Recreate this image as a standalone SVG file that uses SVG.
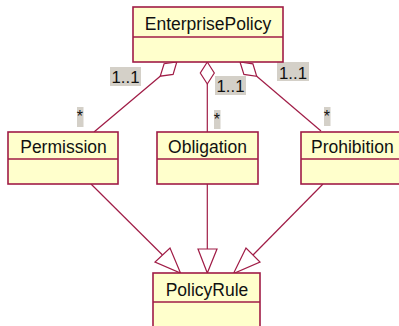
<svg xmlns="http://www.w3.org/2000/svg" width="399" height="326" viewBox="0 0 399 326">
  <style>
    .box { fill: #ffffcc; stroke: #a01c46; stroke-width: 1.6; }
    .div { stroke: #a01c46; stroke-width: 1.4; fill: none; }
    .name { font-family: "Liberation Sans", Arial, sans-serif; font-size: 17.5px; fill: #111; }
    .edge { stroke: #a01c46; stroke-width: 1.2; fill: none; }
    .head { stroke: #a01c46; stroke-width: 1.2; fill: #ffffff; }
    .lblbg { fill: #d4d0c8; }
    .lbl { font-family: "Liberation Sans", Arial, sans-serif; font-size: 16.8px; fill: #111; }
    .star { font-family: "Liberation Sans", Arial, sans-serif; font-size: 16px; fill: #111; }
  </style>
  <rect width="399" height="326" fill="#ffffff"/>

  <g id="connectors">
    <!-- aggregations from EnterprisePolicy -->
    <line class="edge" x1="160.2" y1="76.2" x2="94" y2="132"/>
    <polygon class="head" points="176.8,62 164.1,63.7 160.2,76.2 173.1,74.4"/>
    <line class="edge" x1="207.3" y1="84" x2="207.3" y2="132"/>
    <polygon class="head" points="207.3,62 200.3,73 207.3,84 214.3,73"/>
    <line class="edge" x1="256.7" y1="76.3" x2="321" y2="131"/>
    <polygon class="head" points="240,62 252.9,63.8 256.7,76.3 243.9,74.4"/>

    <!-- generalizations to PolicyRule -->
    <line class="edge" x1="91" y1="184" x2="162.5" y2="255"/>
    <polygon class="head" points="180.5,273 170,248 155,262"/>
    <line class="edge" x1="207.3" y1="184" x2="207.3" y2="249"/>
    <polygon class="head" points="207.3,273 198,249 217,249"/>
    <line class="edge" x1="323" y1="184" x2="253" y2="255"/>
    <polygon class="head" points="233.5,273.5 246,248 260,262"/>

    <!-- multiplicities -->
    <rect class="lblbg" x="110" y="67" width="31" height="19"/>
    <text class="lbl" x="111.5" y="82.5">1..1</text>
    <rect class="lblbg" x="215" y="76" width="31" height="19"/>
    <text class="lbl" x="216.5" y="91.5">1..1</text>
    <rect class="lblbg" x="277" y="62" width="32" height="19"/>
    <text class="lbl" x="279" y="78.5">1..1</text>

    <rect class="lblbg" x="77" y="107" width="6.5" height="20"/>
    <text class="star" x="76.8" y="122">*</text>
    <rect class="lblbg" x="214" y="110" width="6.5" height="19"/>
    <text class="star" x="213.8" y="125">*</text>
    <rect class="lblbg" x="324" y="107" width="6.5" height="19"/>
    <text class="star" x="323.8" y="122">*</text>
  </g>

  <g id="EnterprisePolicy">
    <rect class="box" x="133" y="7" width="150" height="55"/>
    <line class="div" x1="133" y1="37" x2="283" y2="37"/>
    <text class="name" x="208" y="29.5" text-anchor="middle">EnterprisePolicy</text>
  </g>

  <g id="Permission">
    <rect class="box" x="8" y="132" width="110" height="52"/>
    <line class="div" x1="8" y1="159" x2="118" y2="159"/>
    <text class="name" x="63.5" y="152.5" text-anchor="middle">Permission</text>
  </g>

  <g id="Obligation">
    <rect class="box" x="157" y="132" width="101" height="52"/>
    <line class="div" x1="157" y1="159" x2="258" y2="159"/>
    <text class="name" x="207.5" y="152.5" text-anchor="middle">Obligation</text>
  </g>

  <g id="Prohibition">
    <rect class="box" x="301" y="132" width="110" height="52"/>
    <line class="div" x1="301" y1="159" x2="411" y2="159"/>
    <text class="name" x="311" y="152.5">Prohibition</text>
  </g>

  <g id="PolicyRule">
    <rect class="box" x="153" y="273" width="107" height="70"/>
    <line class="div" x1="153" y1="302" x2="260" y2="302"/>
    <text class="name" x="207" y="295.5" text-anchor="middle">PolicyRule</text>
  </g>
</svg>
